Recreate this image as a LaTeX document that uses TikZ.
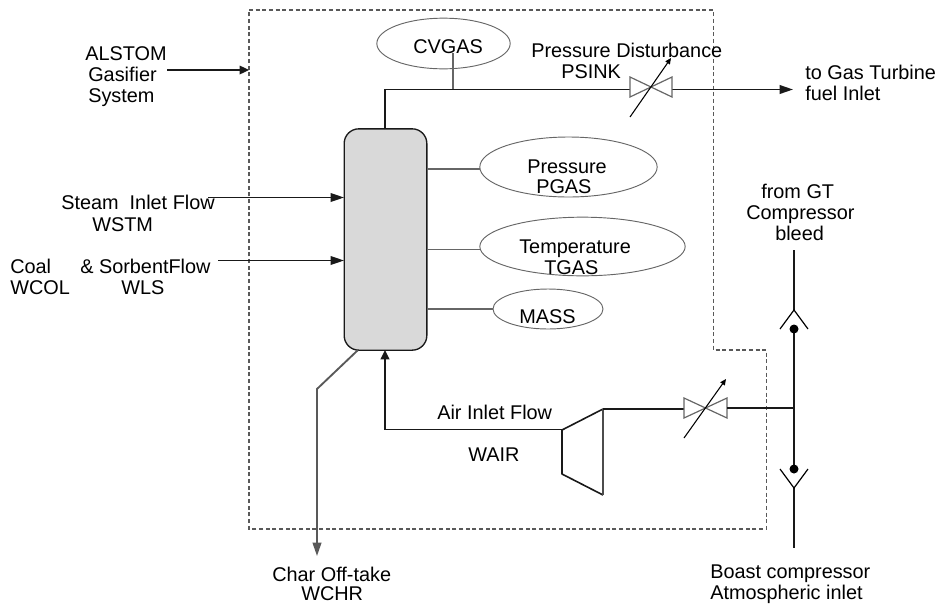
\documentclass[tikz,border=0pt]{standalone}
\usepackage{fontspec}
\setmainfont{Liberation Sans}
\usetikzlibrary{arrows.meta,shapes.geometric}
\tikzset{
 flow/.style={draw=black!90,line width=1.2pt},
 flowarrow/.style={flow,-{Triangle[length=7pt,width=6.5pt]}},
 longarrow/.style={flow,-{Triangle[length=10pt,width=6.5pt]}},
 thin gray/.style={draw=black!60,line width=0.9pt},
 state/.style={draw=black!60,line width=0.7pt,ellipse,inner sep=0pt,minimum width=#1},
 lab/.style={font=\fontsize{14.9pt}{18pt}\selectfont,anchor=base west,inner sep=0pt,text=black},
 valvepart/.style={draw=black!60,line width=0.9pt},
 adjust/.style={draw=black,line width=0.8pt,-{Triangle[length=4.5pt,width=4pt]}},
 dot/.style={circle,fill=black,inner sep=0pt,minimum size=6.75pt},
}
\begin{document}
\begin{tikzpicture}[x=0.75pt,y=-0.75pt]
\useasboundingbox (0,0) rectangle (939,604);
% boundary
\draw[black!65,line width=0.8pt,dash pattern=on 3pt off 2pt]
  (249,10) -- (713.5,10) -- (713.5,350) -- (766.5,350) -- (766.5,529) -- (249,529) -- cycle;
% column
\node[draw=black!90,line width=1pt,fill=black!15,rounded corners=11pt,minimum width=62pt,minimum height=166pt,inner sep=0pt] (col) at (385.5,239.5) {};
% ellipses
\node[state=100pt,minimum height=38pt] (cv) at (443.5,43.5) {};
\node[state=133pt,minimum height=45pt] (pg) at (568.5,167) {};
\node[state=154pt,minimum height=44pt] (tg) at (582.5,246.5) {};
\node[state=82.5pt,minimum height=30pt] (ma) at (548,309) {};
% labels
\node[lab] at (413,53) {CVGAS};
\node[lab] at (527,173) {Pressure};
\node[lab] at (536,193) {PGAS};
\node[lab] at (519,253) {Temperature};
\node[lab] at (544,274) {TGAS};
\node[lab] at (519,323) {MASS};
\node[lab] at (85,60) {ALSTOM};
\node[lab] at (88,81) {Gasifier};
\node[lab] at (88,102) {System};
\node[lab] at (531,57) {Pressure Disturbance};
\node[lab] at (561,78) {PSINK};
\node[lab] at (805,79) {to Gas Turbine};
\node[lab] at (805,100) {fuel Inlet};
\node[lab] at (761,198) {from GT};
\node[lab] at (746,219) {Compressor};
\node[lab] at (775,240) {bleed};
\node[lab] at (61,209) {Steam\ \ Inlet Flow};
\node[lab] at (92,231) {WSTM};
\node[lab] at (10,273) {Coal};
\node[lab] at (10,294) {WCOL};
\node[lab] at (80,273) {\& SorbentFlow};
\node[lab] at (121,294) {WLS};
\node[lab] at (437,419) {Air Inlet Flow};
\node[lab] at (468,461) {WAIR};
\node[lab] at (272,581) {Char Off-take};
\node[lab] at (301,600.5) {WCHR};
\node[lab] at (710,578) {Boast compressor};
\node[lab] at (710,599) {Atmospheric inlet};
% system arrow
\coordinate (sysfrom) at (167,70);
\coordinate (systo) at (249,70);
\draw[flowarrow,line width=0.9pt] (sysfrom) -- (systo);
% outlet
\coordinate (top) at (385,129);
\coordinate (corner) at (385,89.5);
\coordinate (v1l) at (630,89.5);
\coordinate (v1r) at (672,89.5);
\coordinate (fuel) at (793,89.5);
\draw[flow] (top) -- (corner) -- (v1l);
\draw[longarrow] (v1r) -- (fuel);
\draw[thin gray] (453,53) -- (453,89);
\draw[valvepart] (630,77) -- (672,97) -- (672,77) -- (630,97) -- cycle;
\draw[adjust] (630,117) -- (671,58);
% side connections
\draw[thin gray] (427,169) -- (480,169);
\draw[thin gray] (427,249.5) -- (480,249.5);
\draw[thin gray] (427,309) -- (493,309);
% inlets
\draw[longarrow,line width=1pt] (208,197.5) -- (344,197.5);
\draw[longarrow,line width=1pt] (218,260.5) -- (344,260.5);
% air
\coordinate (airin) at (385,350);
\coordinate (aircorner) at (385,429.5);
\coordinate (cin) at (562,429.5);
\draw[flowarrow] (aircorner) -- (airin);
\draw[flow] (aircorner) -- (cin);
\draw[flow,line join=round] (603,409) -- (562,430) -- (562,474) -- (603,495);
\draw[draw=black!70,line width=1.2pt] (603,409) -- (603,495);
\draw[flow] (603,409) -- (684,409);
\draw[valvepart] (684,398) -- (727,418) -- (727,398) -- (684,418) -- cycle;
\draw[flow] (727,408) -- (794,408);
\draw[adjust] (684,438) -- (726,379);
% right vertical
\coordinate (bt) at (794,250);
\coordinate (bb) at (794,548);
\draw[flow] (bt) -- (794,310);
\draw[flow] (794,329) -- (794,469);
\draw[flow] (794,488) -- (bb);
\draw[black,line width=0.9pt] (780,329) -- (794,310) -- (808,329);
\draw[black,line width=0.9pt] (780,469) -- (794,488) -- (808,469);
\node[dot] (d1) at (794,329) {};
\node[dot] (d2) at (794,469) {};
% char
\draw[draw=black!65,line width=1.4pt,-{Triangle[length=10pt,width=6.5pt]}] (358,350) -- (317,389) -- (317,556);
\end{tikzpicture}
\end{document}
